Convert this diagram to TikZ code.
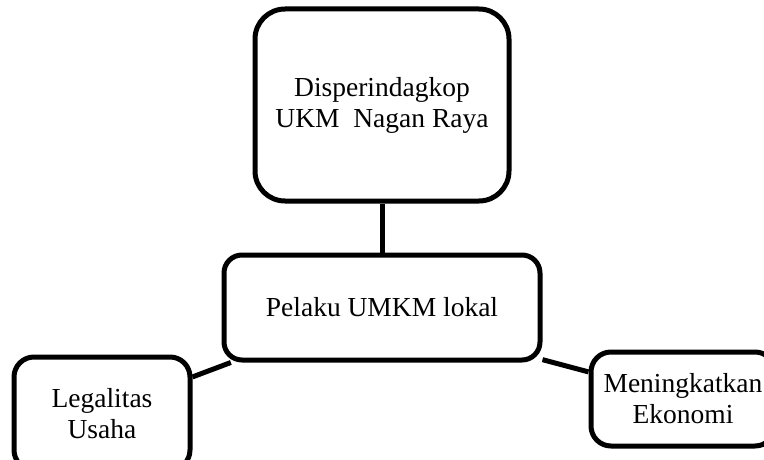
\documentclass[tikz,border=0pt]{standalone}
\usepackage{fontspec}
\setmainfont{Liberation Serif}

\begin{document}
\begin{tikzpicture}[x=1pt, y=-1pt,
  kotak/.style={draw, line width=5pt, rounded corners=20pt, align=center, inner sep=0pt,
    font=\fontsize{27.5}{31}\selectfont},
  garis/.style={line width=5pt}]
\useasboundingbox (0,0) rectangle (764,460);
\clip (0,0) rectangle (764,460);
\node[kotak, rounded corners=30pt, minimum width=254pt, minimum height=192pt] (dinas) at (382,105) {Disperindagkop\\UKM\ \ Nagan Raya};
\node[kotak, rounded corners=18pt, minimum width=316pt, minimum height=105pt] (pelaku) at (382,307.5) {Pelaku UMKM lokal};
\node[kotak, minimum width=176pt, minimum height=113pt] (legal) at (102,413.5) {Legalitas\\Usaha};
\node[kotak, minimum width=184pt, minimum height=94pt] (ekonomi) at (683,399) {Meningkatkan\\Ekonomi};
\draw[garis] (dinas.south) -- (pelaku.north);
\draw[garis] (pelaku.200) -- (legal.22);
\draw[garis] (pelaku.-18) -- (ekonomi.164);
\end{tikzpicture}
\end{document}
